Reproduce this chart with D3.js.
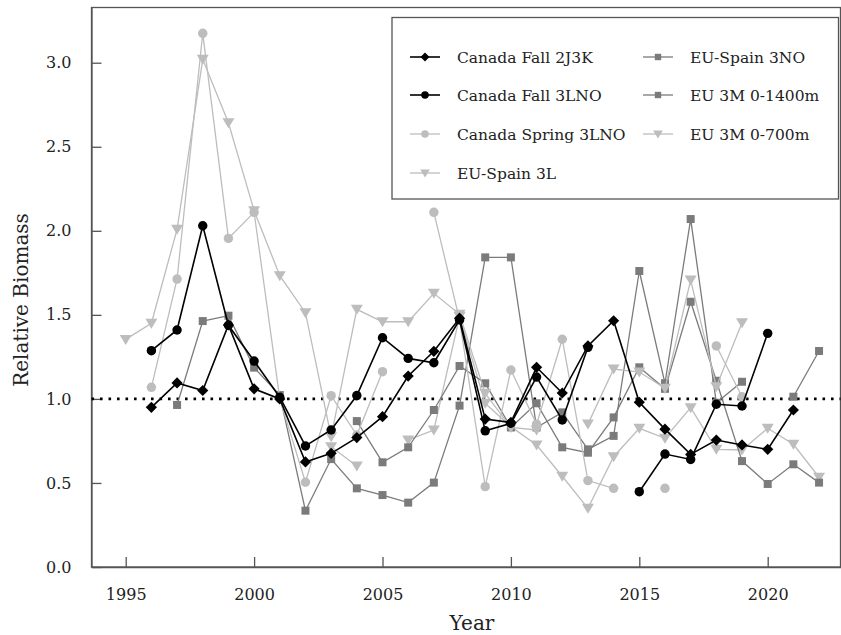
<!DOCTYPE html>
<html><head><meta charset="utf-8">
<script src="https://cdn.jsdelivr.net/npm/d3@7"></script>
<style>body{margin:0;background:#fff}svg{display:block}text{font-family:"DejaVu Serif",serif;fill:#222}</style>
</head><body><svg id="c" width="841" height="635"></svg>
<script>
const years = d3.range(1995, 2023);
const xTicks = [1995, 2000, 2005, 2010, 2015, 2020];
const yTicks = [0, 0.5, 1.0, 1.5, 2.0, 2.5, 3.0];
// values per year 1995..2022 (null = no survey)
const fall2J3K   = [null,0.95,1.095,1.05,1.44,1.06,1.00,0.625,0.676,0.77,0.894,1.136,1.283,1.48,0.88,0.86,1.188,1.035,1.315,1.465,0.98,0.82,0.67,0.755,0.726,0.70,0.934,null];
const fall3LNO   = [null,1.287,1.41,2.03,1.438,1.225,1.01,0.72,0.815,1.02,1.364,1.241,1.215,1.47,0.81,0.855,1.13,0.875,1.307,null,0.448,0.672,0.64,0.968,0.958,1.39,null,null];
const spring3LNO = [null,1.069,1.713,3.175,1.955,2.11,1.0,0.504,1.019,0.785,1.162,null,2.11,1.47,0.478,1.172,0.85,1.355,0.514,0.468,null,0.468,null,1.315,1.013,null,null,null];
const spain3L    = [1.354,1.45,2.009,3.02,2.643,2.12,1.733,1.513,0.775,1.533,1.459,1.459,1.628,1.503,1.033,0.83,0.815,null,0.85,1.178,1.16,1.063,1.707,1.073,1.453,null,null,null];
const spain3NO   = [null,null,0.964,1.463,1.495,1.186,1.023,0.335,0.642,0.468,0.428,0.383,0.502,0.96,1.842,1.842,0.83,0.92,0.70,0.78,1.761,1.093,2.07,0.977,1.102,null,1.013,1.285];
const eu3M1400   = [null,null,null,null,null,null,null,null,null,0.868,0.623,0.712,0.934,1.196,1.093,0.83,0.974,0.712,0.68,0.89,1.188,1.06,1.578,1.108,0.63,0.494,0.611,0.502];
const eu3M700    = [null,null,null,null,null,null,null,null,0.716,0.601,null,0.756,0.815,1.49,0.974,0.835,0.726,0.54,0.349,0.656,0.825,0.766,0.948,0.70,0.696,0.825,0.73,0.534];

const seriesNames = ["Canada Fall 2J3K","Canada Fall 3LNO","Canada Spring 3LNO","EU-Spain 3L","EU-Spain 3NO","EU 3M 0-1400m","EU 3M 0-700m"];
const seriesValues = [fall2J3K, fall3LNO, spring3LNO, spain3L, spain3NO, eu3M1400, eu3M700];
const styles = [
  {color:"#000", shape:"diamond", w:1.6},
  {color:"#000", shape:"circle", w:1.6},
  {color:"#bdbdbd", shape:"circle", w:1.3},
  {color:"#bdbdbd", shape:"tri", w:1.3},
  {color:"#7b7b7b", shape:"square", w:1.3},
  {color:"#7b7b7b", shape:"square", w:1.3},
  {color:"#bdbdbd", shape:"tri", w:1.3}
];

const svg = d3.select("#c");
const L = 91.5, R = 840.5, T = 7.5, B = 567;
const x = d3.scaleLinear().domain([1993.668, 2022.835]).range([L, R]);
const y = d3.scaleLinear().domain([0, 3.3285]).range([B, T]);

function shapePath(s){
  if (s==="diamond") return "M0,-5.6L5.6,0L0,5.6L-5.6,0Z";
  if (s==="circle") return d3.symbol(d3.symbolCircle, 70)();
  if (s==="square") return "M-4,-4H4V4H-4Z";
  if (s==="tri") return "M-6,-4.5H6L0,5.5Z";
}

// frame
svg.append("rect").attr("x",L).attr("y",T).attr("width",R-L).attr("height",B-T)
  .attr("fill","none").attr("stroke","#555").attr("stroke-width",1.3);

// axes
const xa = svg.append("g").attr("transform",`translate(0,${B})`)
  .call(d3.axisBottom(x).tickValues(xTicks).tickFormat(d3.format("d")).tickSizeInner(-10).tickSizeOuter(0).tickPadding(22));
const ya = svg.append("g").attr("transform",`translate(${L},0)`)
  .call(d3.axisLeft(y).tickValues(yTicks).tickFormat(d3.format(".1f")).tickSizeInner(-10).tickSizeOuter(0).tickPadding(20));
[xa,ya].forEach(g=>{
  g.select(".domain").attr("stroke","#555").attr("stroke-width",1.3);
  g.selectAll(".tick line").attr("stroke","#555").attr("stroke-width",1.3);
  g.selectAll(".tick text").attr("font-size",16).attr("fill","#222").attr("font-family","DejaVu Serif");
});

// reference line at 1
svg.append("line").attr("x1",L).attr("x2",R).attr("y1",y(1)).attr("y2",y(1))
  .attr("stroke","#000").attr("stroke-width",2.6).attr("stroke-dasharray","2.6,5.9");

// series
const order = [6,5,4,3,2,1,0];
order.forEach(i=>{
  const st = styles[i];
  const data = years.map((yr,k)=>({yr, v: seriesValues[i][k]}));
  const line = d3.line().defined(d=>d.v!=null).x(d=>x(d.yr)).y(d=>y(d.v));
  svg.append("path").attr("d",line(data)).attr("fill","none").attr("stroke",st.color).attr("stroke-width",st.w);
  svg.append("g").selectAll("path").data(data.filter(d=>d.v!=null)).join("path")
    .attr("d",shapePath(st.shape)).attr("transform",d=>`translate(${x(d.yr)},${y(d.v)})`).attr("fill",st.color);
});

// titles
svg.append("text").attr("x",472).attr("y",630).attr("text-anchor","middle").attr("font-size",20).text("Year");
svg.append("text").attr("transform","translate(28,300) rotate(-90)").attr("text-anchor","middle").attr("font-size",20).text("Relative Biomass");

// legend
const lg = svg.append("g");
lg.append("rect").attr("x",392).attr("y",17.5).attr("width",446.5).attr("height",181.5).attr("fill","#fff").attr("stroke","#555").attr("stroke-width",1.3);
const legPos = [[0,0],[0,1],[0,2],[0,3],[1,0],[1,1],[1,2]];
const colX = [410, 643], rowY = [57, 95, 134, 173];
seriesNames.forEach((n,i)=>{
  const [c,r] = legPos[i]; const st = styles[i];
  const cx = colX[c], cy = rowY[r];
  lg.append("line").attr("x1",cx).attr("x2",cx+30).attr("y1",cy).attr("y2",cy).attr("stroke",st.color).attr("stroke-width",st.w);
  lg.append("path").attr("d",shapePath(st.shape)).attr("transform",`translate(${cx+15},${cy}) scale(0.8)`).attr("fill",st.color);
  lg.append("text").attr("x",cx+47).attr("y",cy+5.5).attr("font-size",15.5).text(n);
});
</script></body></html>
